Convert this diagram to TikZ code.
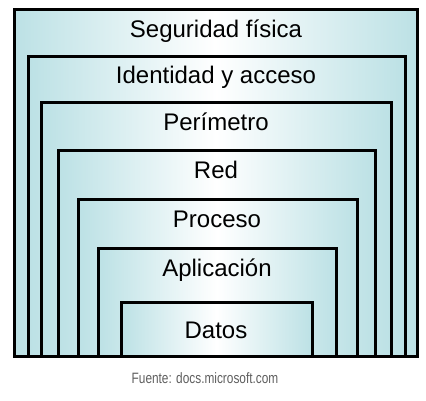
\documentclass[tikz,border=0pt]{standalone}
\usepackage{fontspec}
\setmainfont{Liberation Sans}
\newfontfamily\narrowfont[FakeStretch=0.79]{Liberation Sans}
\definecolor{layerc}{RGB}{188,225,229}
\definecolor{srcgray}{RGB}{95,95,95}
\tikzset{
  layer/.style={draw=black, line width=3pt, inner sep=0pt, outer sep=0pt,
    left color=layerc, right color=layerc, middle color=white, anchor=north west},
  lbl/.style={anchor=base, inner sep=0pt, font=\fontsize{24}{28}\selectfont},
  src/.style={anchor=base, inner sep=0pt, text=srcgray, font=\narrowfont\fontsize{15}{18}\selectfont}
}
\begin{document}
\begin{tikzpicture}[x=1pt,y=-1pt]
\useasboundingbox (0,0) rectangle (426,400);
\fill[white] (0,0) rectangle (426,400);
\node[layer, minimum width=403pt, minimum height=347pt] (b1) at (14,9) {};
\node[layer, minimum width=377pt, minimum height=300pt] (b2) at (28,56) {};
\node[layer, minimum width=350pt, minimum height=254pt] (b3) at (41,102) {};
\node[layer, minimum width=317pt, minimum height=206pt] (b4) at (58,150) {};
\node[layer, minimum width=279pt, minimum height=157pt] (b5) at (78,199) {};
\node[layer, minimum width=238pt, minimum height=108pt] (b6) at (98,248) {};
\node[layer, minimum width=191pt, minimum height=54pt] (b7) at (121,302) {};
\node[lbl] (t1) at (216,37) {Seguridad física};
\node[lbl] (t2) at (216,83) {Identidad y acceso};
\node[lbl] (t3) at (216,130) {Perímetro};
\node[lbl] (t4) at (216,178) {Red};
\node[lbl] (t5) at (217,227) {Proceso};
\node[lbl] (t6) at (217,276) {Aplicación};
\node[lbl] (t7) at (216,338) {Datos};
\node[src] (s) at (205,383) {Fuente: docs.microsoft.com};
\end{tikzpicture}
\end{document}
